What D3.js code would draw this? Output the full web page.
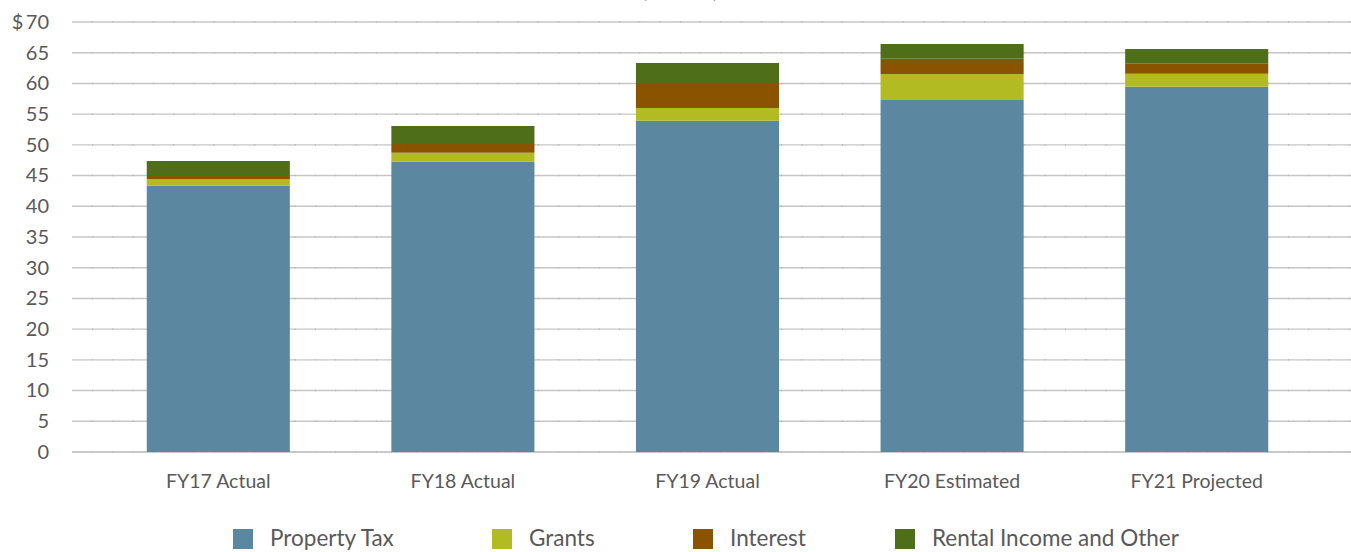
<!DOCTYPE html>
<html><head><meta charset="utf-8">
<script src="https://cdn.jsdelivr.net/npm/d3@7"></script>
<style>body{margin:0;background:#fff}svg{display:block}text{font-family:Lato,"Open Sans",sans-serif;fill:#595959}</style>
</head><body><svg id="c" width="1351" height="552"></svg>
<script>
const categories = ["FY17 Actual","FY18 Actual","FY19 Actual","FY20 Estimated","FY21 Projected"];
const seriesNames = ["Property Tax","Grants","Interest","Rental Income and Other"];
const propertyTax = [43.35, 47.26, 53.93, 57.30, 59.47];
const grants      = [1.09, 1.46, 2.07, 4.23, 2.11];
const interest    = [0.65, 1.42, 3.91, 2.50, 1.63];
const rentalOther = [2.28, 2.93, 3.42, 2.39, 2.39];
const yTicks = [0,5,10,15,20,25,30,35,40,45,50,55,60,65,70];
const colors = ["#5B88A0","#B2BB22","#895300","#4E6E19"];

const svg = d3.select("#c");
const y = d3.scaleLinear().domain([0,70]).range([452,22]);
const x = d3.scaleBand().domain(categories).range([96,1319]).paddingInner(0.415).paddingOuter(0.2075);

// title remnant (cut off at top edge, as in the reference)
svg.append("text").attr("x",680).attr("y",-2).attr("text-anchor","middle").style("font-size","20px").text("(millions)");

// gridlines
const grid = svg.append("g");
yTicks.forEach(t=>{
  grid.append("line").attr("x1",72).attr("x2",1351).attr("y1",y(t)).attr("y2",y(t))
    .attr("stroke", t===0 ? "#b8b8b8" : "#c6c6c6").attr("stroke-width",1.4);
  grid.append("line").attr("x1",92).attr("x2",1351).attr("y1",y(t)).attr("y2",y(t))
    .attr("stroke","#b4b4b4").attr("stroke-width",1.5).attr("stroke-dasharray","1 19.27");
});

// y labels
const yAxis = d3.axisLeft(y).tickValues(yTicks).tickSize(0).tickPadding(0)
  .tickFormat(d=> d===70 ? "$\u200970" : d);
const ya = svg.append("g").attr("transform","translate(49,0)").call(yAxis);
ya.select(".domain").remove();
ya.selectAll("text").style("font-size","20px").style("fill","#595959").attr("font-family","Lato");

// stacked bars
const data = categories.map((c,i)=>({cat:c, "Property Tax":propertyTax[i], "Grants":grants[i], "Interest":interest[i], "Rental Income and Other":rentalOther[i]}));
const stack = d3.stack().keys(seriesNames)(data);
svg.append("g").selectAll("g").data(stack).join("g").attr("fill",(d,i)=>colors[i])
  .selectAll("rect").data(d=>d).join("rect")
  .attr("x",d=>x(d.data.cat)).attr("width",x.bandwidth())
  .attr("y",d=>y(d[1])).attr("height",d=>y(d[0])-y(d[1]));

// x labels
const xAxis = d3.axisBottom(x).tickSize(0).tickPadding(0);
const xa = svg.append("g").attr("transform","translate(0,488)").call(xAxis);
xa.select(".domain").remove();
xa.selectAll("text").attr("dy",0).style("font-size","19.5px").style("fill","#595959").attr("font-family","Lato");

// legend
const legX = [233,492,693,895];
const leg = svg.append("g");
seriesNames.forEach((s,i)=>{
  leg.append("rect").attr("x",legX[i]).attr("y",529).attr("width",20).attr("height",20).attr("fill",colors[i]);
  leg.append("text").attr("x",legX[i]+37).attr("y",546).style("font-size","22.5px").text(s);
});
</script></body></html>
